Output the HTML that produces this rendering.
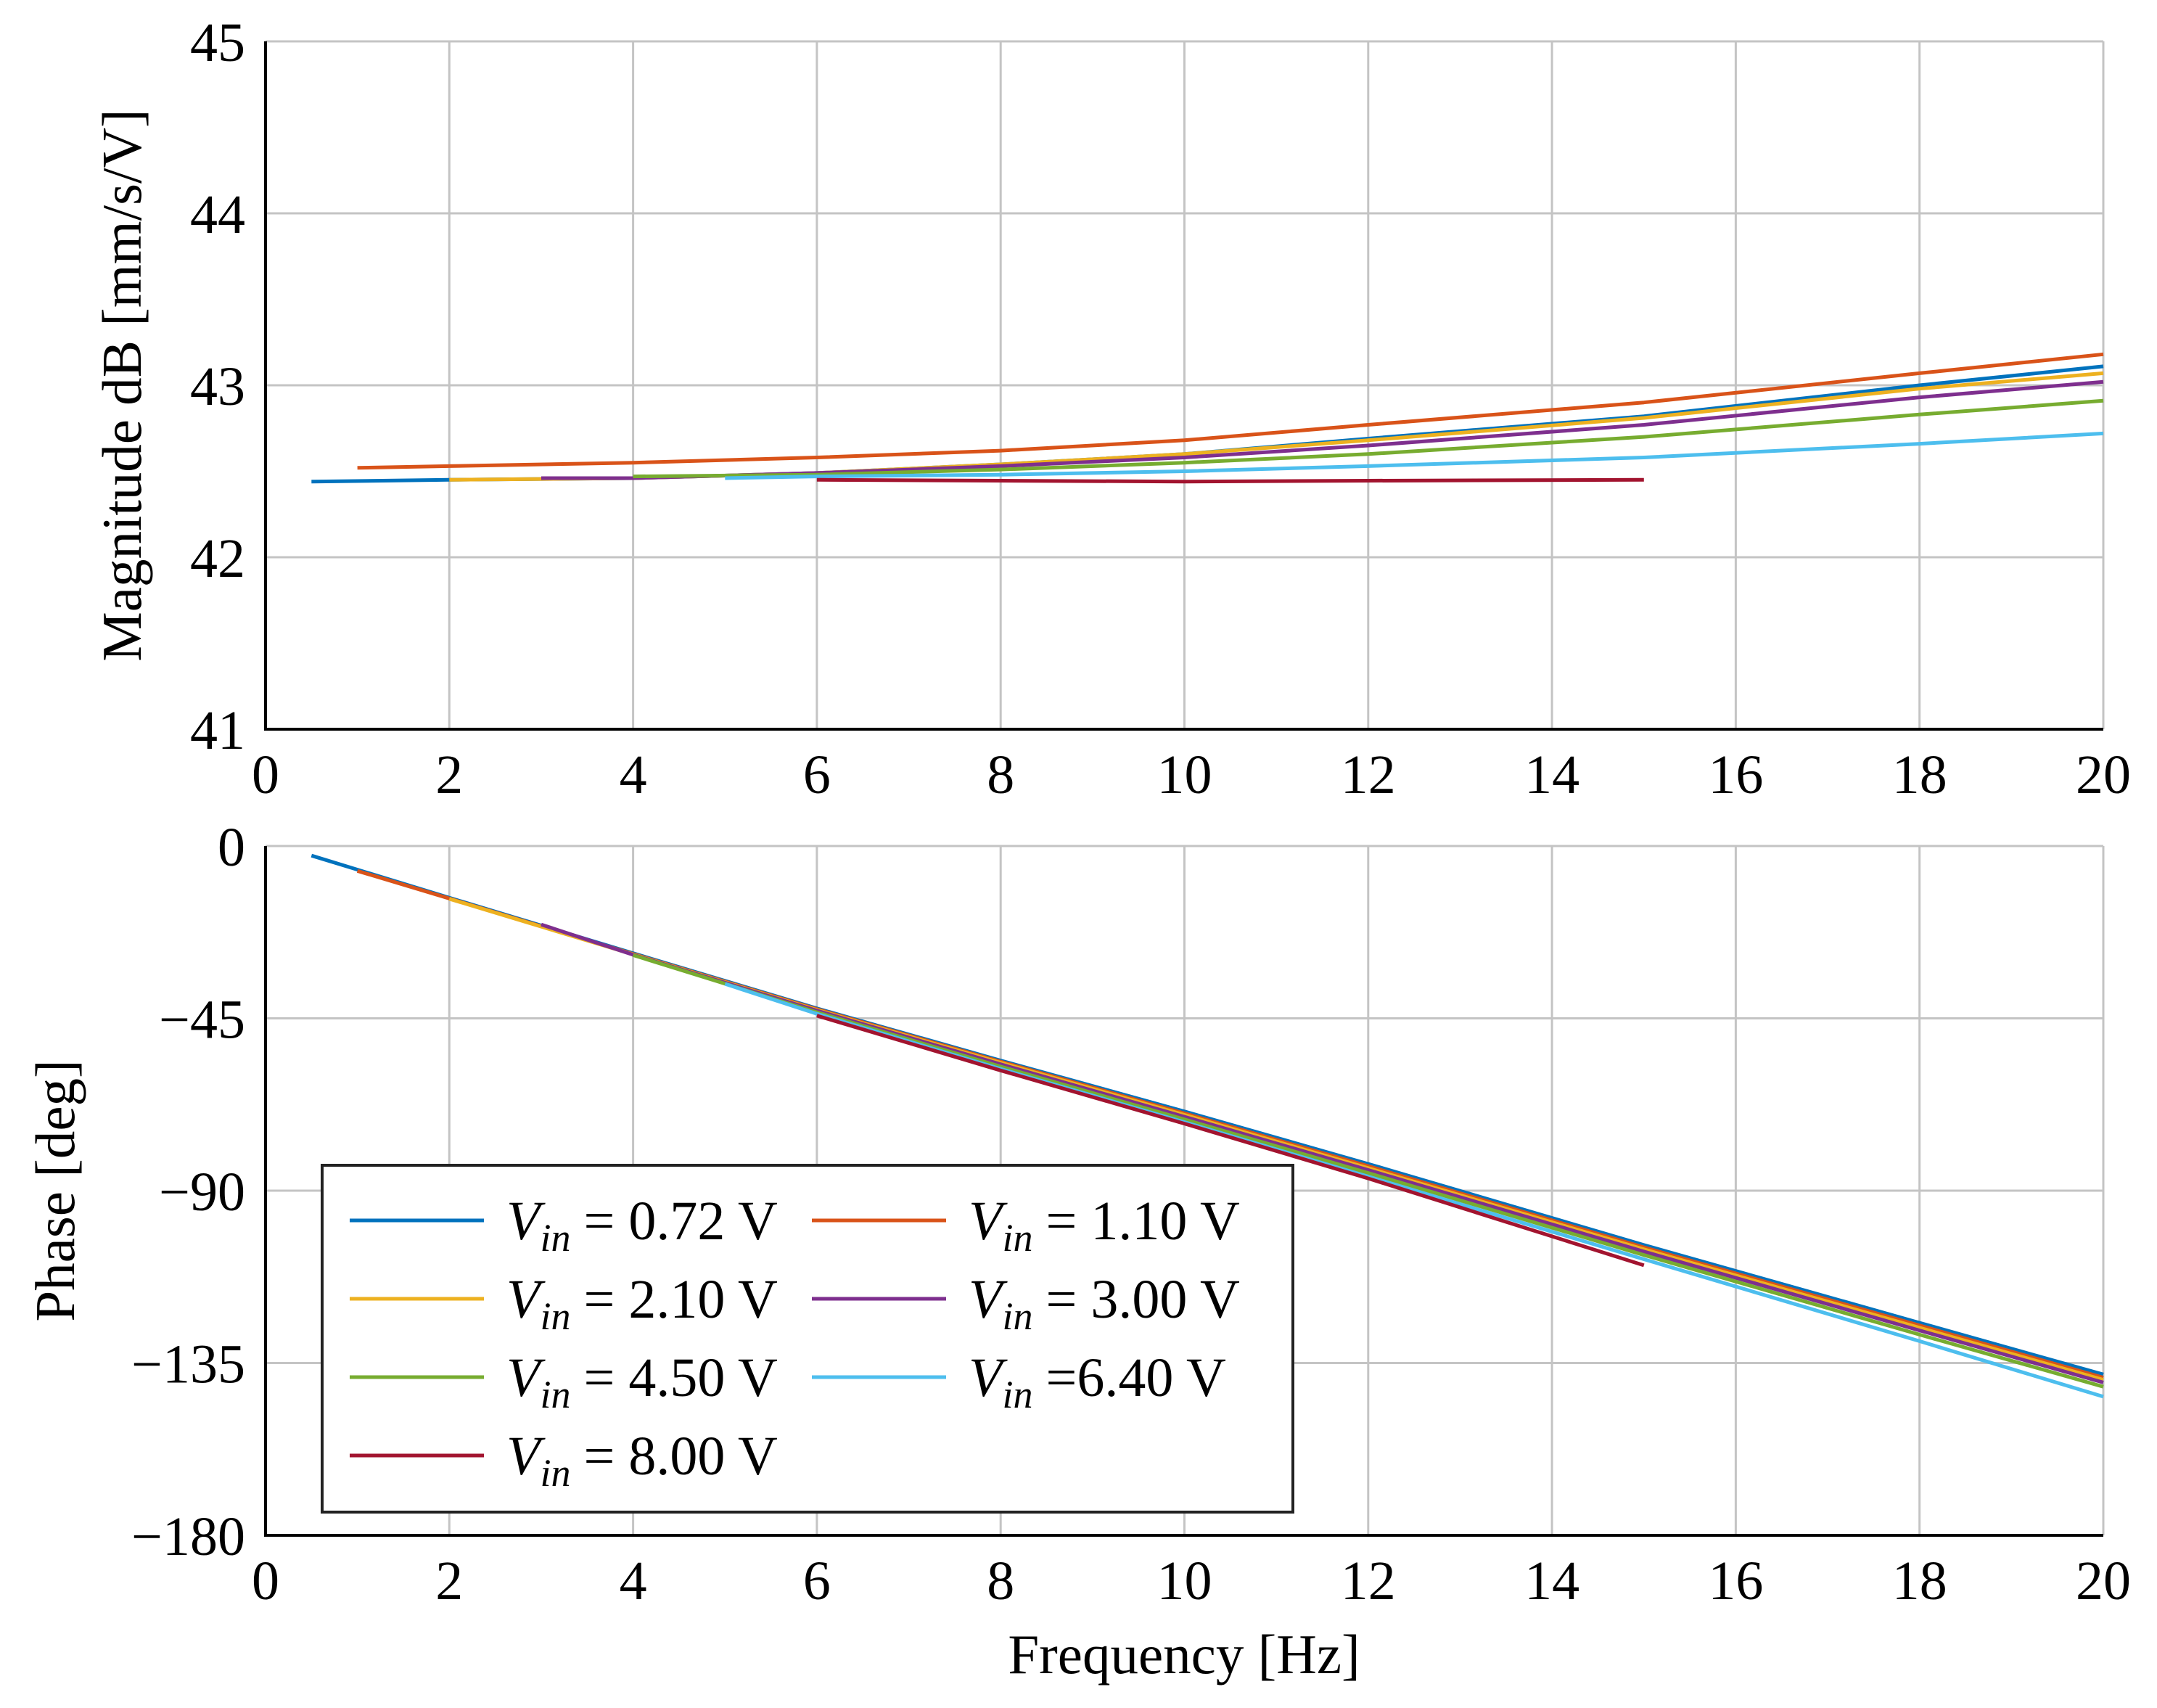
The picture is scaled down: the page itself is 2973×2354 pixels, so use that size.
<!DOCTYPE html>
<html><head><meta charset="utf-8"><style>
html,body{margin:0;padding:0;background:#fff}
svg{display:block}
text{font-family:"Liberation Serif",serif;fill:#000}
</style></head><body>
<svg id="chart" width="2973" height="2354" viewBox="0 0 2973 2354" xmlns="http://www.w3.org/2000/svg">
<g id="g"></g>
</svg>
<script>
const names = ["0.72","1.10","2.10","3.00","4.50","6.40","8.00"];
const legendLabels = ["= 0.72 V","= 1.10 V","= 2.10 V","= 3.00 V","= 4.50 V","=6.40 V","= 8.00 V"];
const colors = ["#0072BD","#D95319","#EDB120","#7E2F8E","#77AC30","#4DBEEE","#A2142F"];
const freqs072 = [0.5,2,4,6,8,10,12,15,18,20];
const mag072 = [42.44,42.45,42.46,42.49,42.54,42.6,42.69,42.82,43.0,43.11];
const freqs110 = [1,2,4,6,8,10,12,15,18,20];
const mag110 = [42.52,42.53,42.55,42.58,42.62,42.68,42.77,42.9,43.07,43.18];
const freqs210 = [2,4,6,8,10,12,15,18,20];
const mag210 = [42.45,42.46,42.49,42.54,42.6,42.68,42.81,42.98,43.07];
const freqs300 = [3,4,6,8,10,12,15,18,20];
const mag300 = [42.46,42.46,42.49,42.53,42.58,42.65,42.77,42.93,43.02];
const freqs450 = [4,6,8,10,12,15,18,20];
const mag450 = [42.47,42.48,42.51,42.55,42.6,42.7,42.83,42.91];
const freqs640 = [5,6,8,10,12,15,18,20];
const mag640 = [42.46,42.47,42.48,42.5,42.53,42.58,42.66,42.72];
const freqs800 = [6,8,10,12,15];
const mag800 = [42.45,42.445,42.44,42.445,42.45];
const phase072 = [-2.5,-13.5,-28,-42.4,-56,-69.3,-83,-104.2,-124.5,-138.0];
const phase110 = [-6.5,-13.7,-28.2,-42.6,-56.3,-69.8,-83.6,-104.8,-125.2,-138.8];
const phase210 = [-13.8,-28.3,-42.8,-56.6,-70.2,-84.1,-105.3,-125.8,-139.4];
const phase300 = [-20.5,-28.4,-43.0,-57.0,-70.7,-84.6,-105.9,-126.5,-140.1];
const phase450 = [-28.5,-43.4,-57.6,-71.4,-85.4,-106.8,-127.6,-141.2];
const phase640 = [-36,-43.8,-58.2,-72.1,-86.3,-107.9,-129.3,-143.8];
const phase800 = [-44.3,-58.6,-72.5,-86.8,-109.5];
const seriesF = [freqs072,freqs110,freqs210,freqs300,freqs450,freqs640,freqs800];
const seriesMag = [mag072,mag110,mag210,mag300,mag450,mag640,mag800];
const seriesPh = [phase072,phase110,phase210,phase300,phase450,phase640,phase800];
const xTicks = [0,2,4,6,8,10,12,14,16,18,20];
const magTicks = [41,42,43,44,45];
const phTicks = [0,-45,-90,-135,-180];

const NS="http://www.w3.org/2000/svg";
const G=document.getElementById('g');
function el(tag,attrs,parent){const e=document.createElementNS(NS,tag);for(const k in attrs)e.setAttribute(k,attrs[k]);(parent||G).appendChild(e);return e;}
const X0=366,X1=2899;
const xs=v=>X0+(v-0)/(20-0)*(X1-X0);
const magY=v=>1005-(v-41)/(45-41)*(1005-57);
const phY=v=>1166+(v-0)/(-180)*(2116-1166);
const FS=76;

function drawAxes(yfun,ticks,top,bot,nm,labelFmt){
  const grp=el('g',{});
  
  
  xTicks.forEach(t=>{const l=el('line',{x1:xs(t),x2:xs(t),y1:top,y2:bot,stroke:'#c4c4c4','stroke-width':3},grp);
    
    
    const tx=el('text',{x:xs(t),y:bot+88,'font-size':FS,'text-anchor':'middle'},grp);tx.textContent=t;
    
    });
  ticks.forEach(t=>{const y=yfun(t);const l=el('line',{x1:X0,x2:X1,y1:y,y2:y,stroke:'#c4c4c4','stroke-width':3},grp);
    
    
    const tx=el('text',{x:338,y:y+27,'font-size':FS,'text-anchor':'end'},grp);tx.textContent=labelFmt(t);
    
    });
  el('line',{x1:X0,x2:X0,y1:top,y2:bot+2,stroke:'#000','stroke-width':4},grp);
  el('line',{x1:X0-2,x2:X1,y1:bot,y2:bot,stroke:'#000','stroke-width':4},grp);
}
drawAxes(magY,magTicks,57,1005,'magnitude',t=>t);
drawAxes(phY,phTicks,1166,2116,'phase',t=>t<0?'\u2212'+(-t):t);

function drawSeries(yfun,vals,nm){
  for(let i=0;i<names.length;i++){
    const pts=seriesF[i].map((f,j)=>xs(f).toFixed(1)+','+yfun(vals[i][j]).toFixed(1)).join(' ');
    const p=el('polyline',{points:pts,fill:'none',stroke:colors[i],'stroke-width':5,'stroke-linejoin':'round'});
    
    
  }
}
drawSeries(magY,seriesMag,'magnitude');
drawSeries(phY,seriesPh,'phase');

let t=el('text',{x:0,y:0,'font-size':77,'text-anchor':'middle',transform:'translate(194,531) rotate(-90)'});
t.textContent='Magnitude dB [mm/s/V]';


t=el('text',{x:0,y:0,'font-size':77,'text-anchor':'middle',transform:'translate(102,1641) rotate(-90)'});
t.textContent='Phase [deg]';


t=el('text',{x:1632,y:2306,'font-size':77,'text-anchor':'middle'});
t.textContent='Frequency [Hz]';



const lg=el('g',{});


el('rect',{x:444,y:1606,width:1338,height:478,fill:'#fff',stroke:'#222','stroke-width':4},lg);
for(let i=0;i<names.length;i++){
  const col=i%2,row=Math.floor(i/2);
  const lx=col?1119:482, ly=1682+row*108;
  const e=el('g',{},lg);
  
  
  el('line',{x1:lx,x2:lx+185,y1:ly,y2:ly,stroke:colors[i],'stroke-width':5},e);
  const tx=el('text',{x:lx+216,y:ly+26,'font-size':FS},e);
  const v=el('tspan',{'font-style':'italic'},tx);v.textContent='V';
  const s=el('tspan',{'font-style':'italic','font-size':54,dy:16},tx);s.textContent='in';
  const r=el('tspan',{dy:-16,dx:18},tx);r.textContent=legendLabels[i];
}
</script>
</body></html>
